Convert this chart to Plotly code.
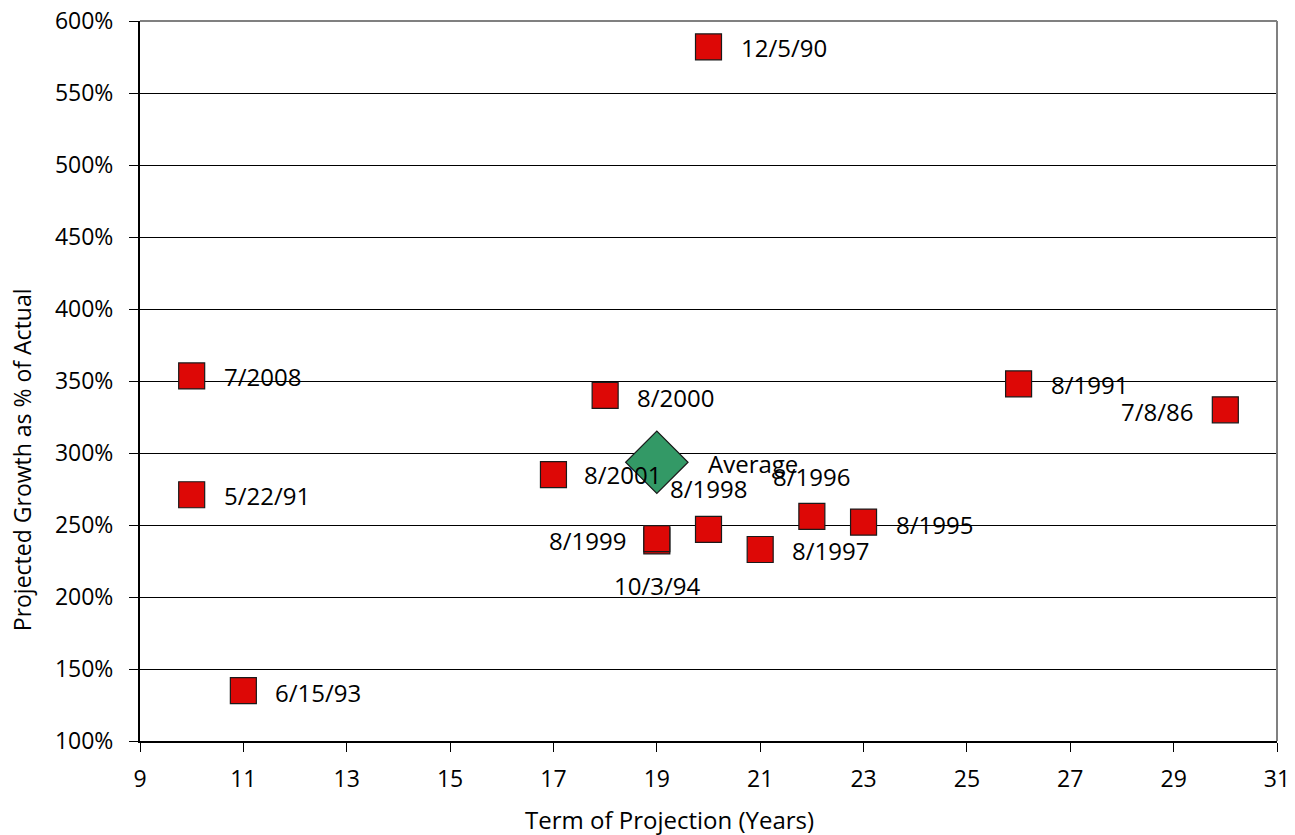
import plotly.graph_objects as go

# Data
labels = ["7/2008", "5/22/91", "6/15/93", "8/2001", "8/2000", "12/5/90",
          "10/3/94", "8/1999", "8/1998", "8/1997", "8/1996", "8/1995",
          "8/1991", "7/8/86"]
term_years = [10, 10, 11, 17, 18, 20, 19, 19, 20, 21, 22, 23, 26, 30]
growth_pct = [353.5, 271, 135, 285, 340, 582, 239, 240.5, 247, 233, 256, 252, 348, 330]

avg_label = ["Average"]
avg_x = [19]
avg_y = [293.6]

y_ticks = [100, 150, 200, 250, 300, 350, 400, 450, 500, 550, 600]
x_ticks = [9, 11, 13, 15, 17, 19, 21, 23, 25, 27, 29, 31]

# Label placement styles (anchor, xshift, yshift) per point
label_style = {
    "7/2008": ("left", 30, -1), "5/22/91": ("left", 30, -1), "6/15/93": ("left", 30, -2),
    "8/2001": ("left", 29, 0), "8/2000": ("left", 30, -2), "12/5/90": ("left", 30, -1),
    "10/3/94": ("center", 0, -45), "8/1999": ("right", -29, -2), "8/1998": ("center", 0, 41),
    "8/1997": ("left", 30, -1), "8/1996": ("center", 0, 40), "8/1995": ("left", 30, -2),
    "8/1991": ("left", 30, -1), "7/8/86": ("right", -29, -2),
}

FONT = "'Open Sans', 'Noto Sans', sans-serif"
FS_TICK = 23
FS_LABEL = 24
FS_TITLE = 24

fig = go.Figure()
fig.add_trace(go.Scatter(
    x=term_years, y=growth_pct, mode="markers", name="Projections",
    marker=dict(symbol="square", size=26, color="#DD0806",
                line=dict(color="#1a1a1a", width=1.2)),
    hoverinfo="text", text=labels,
))
fig.add_trace(go.Scatter(
    x=avg_x, y=avg_y, mode="markers", name="Average",
    marker=dict(symbol="diamond", size=48, color="#339966",
                line=dict(color="#1a1a1a", width=1.2)),
    hoverinfo="text", text=avg_label,
))

annotations = []
for lab, xv, yv in zip(labels, term_years, growth_pct):
    anc, xs, ys = label_style[lab]
    annotations.append(dict(x=xv, y=yv, xref="x", yref="y", text=lab, showarrow=False,
                            xanchor=anc, yanchor="middle", xshift=xs, yshift=ys,
                            font=dict(family=FONT, size=FS_LABEL, color="#000")))
annotations.append(dict(x=avg_x[0], y=avg_y[0], xref="x", yref="y", text=avg_label[0],
                        showarrow=False, xanchor="left", yanchor="middle", xshift=49, yshift=-1,
                        font=dict(family=FONT, size=FS_LABEL, color="#000")))
# Axis titles
annotations.append(dict(x=0, y=0.39, xref="paper", yref="paper", xshift=-118,
                        text="Projected Growth as % of Actual", textangle=-90, showarrow=False,
                        xanchor="center", yanchor="middle",
                        font=dict(family=FONT, size=23, color="#000")))
annotations.append(dict(x=0.466, y=0, xref="paper", yref="paper", yshift=-78,
                        text="Term of Projection (Years)", showarrow=False,
                        xanchor="center", yanchor="middle",
                        font=dict(family=FONT, size=FS_TITLE, color="#000")))

fig.update_layout(
    width=1295, height=835,
    margin=dict(l=140, r=18, t=21, b=94, autoexpand=False),
    paper_bgcolor="white", plot_bgcolor="white",
    showlegend=False,
    font=dict(family=FONT, size=FS_TICK, color="#000"),
    annotations=annotations,
    shapes=[
        dict(type="line", xref="paper", yref="paper", x0=0, x1=1, y0=1, y1=1,
             line=dict(color="#808080", width=2), layer="above"),
        dict(type="line", xref="paper", yref="paper", x0=1, x1=1, y0=0, y1=1,
             line=dict(color="#808080", width=2), layer="above"),
    ],
)
fig.update_xaxes(range=[9, 31], tickvals=x_ticks, ticktext=[str(v) for v in x_ticks],
                 automargin=False,
                 showgrid=False, zeroline=False, showline=True, linecolor="#000", linewidth=2,
                 ticks="outside", ticklen=9, tickcolor="#000", tickwidth=1,
                 ticklabelstandoff=7, tickfont=dict(family=FONT, size=FS_TICK, color="#000"))
fig.update_yaxes(range=[100, 600], tickvals=y_ticks, ticktext=[f"{v}%" for v in y_ticks],
                 automargin=False,
                 showgrid=True, gridcolor="#000", gridwidth=1, zeroline=False,
                 showline=True, linecolor="#000", linewidth=2,
                 ticks="outside", ticklen=9, tickcolor="#000", tickwidth=1,
                 ticklabelstandoff=11, tickfont=dict(family=FONT, size=FS_TICK, color="#000"))

fig.write_html("out.html", config={"displayModeBar": False})

# remove default page margin so the figure sits at the window's top-left
with open("out.html", "r", encoding="utf-8") as f:
    html = f.read()
html = html.replace("<head>", "<head><style>html,body{margin:0;padding:0;overflow:hidden;}</style>", 1)
with open("out.html", "w", encoding="utf-8") as f:
    f.write(html)
